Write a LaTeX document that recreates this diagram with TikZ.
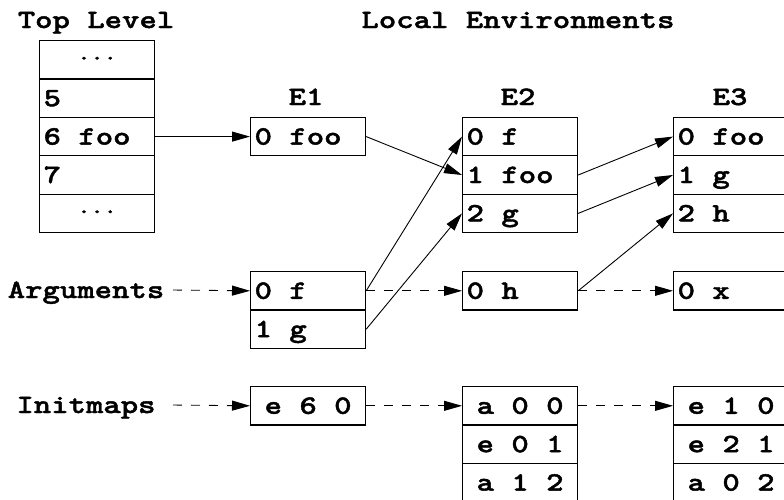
\documentclass[tikz,border=0pt]{standalone}
\usepackage{fontspec}
\newfontfamily\cour{lmmonolt10-bold.otf}[FakeStretch=1.25, FakeBold=1.6]
\usetikzlibrary{arrows.meta}
% left-aligned cell text, set in a box of the cell's inner width
\newcommand\cl[1]{\makebox[107pt][l]{#1}}

\begin{document}
\begin{tikzpicture}[x=1pt,y=-1pt,
  txt/.style={font=\cour\fontsize{26.5}{28}\selectfont},
  title/.style={txt, inner sep=0pt, text height=16pt, text depth=0pt},
  cell/.style={txt, draw, line width=1.2pt, anchor=north west,
    minimum width=115pt, minimum height=38.4pt, inner xsep=4pt, inner ysep=0pt,
    text height=16pt, text depth=0pt},
  dots/.style={cell, font=\cour\fontsize{20}{22}\selectfont, text height=9pt},
  link/.style={line width=0.9pt, -{Triangle[length=18pt,width=10pt]}},
  dlink/.style={link, dash pattern=on 9pt off 9pt}
]
\clip (0,0) rectangle (784,499);

% headings
\node[title] (top) at (96,20) {Top Level};
\node[title] (loc) at (518,20) {Local Environments};
\node[title] (E1) at (306,97) {E1};
\node[title] (E2) at (518,97) {E2};
\node[title] (E3) at (730,97) {E3};
\node[title] (args) at (86,290) {Arguments};
\node[title] (init) at (86,405) {Initmaps};
\coordinate (argsout) at (173,290);
\coordinate (initout) at (173,405);

% top level table
\node[dots] (tl0) at (39,40)    {···};
\node[cell] (tl1) at (39,78.4)  {\cl{5}};
\node[cell] (tl2) at (39,116.8) {\cl{6 foo}};
\node[cell] (tl3) at (39,155.2) {\cl{7}};
\node[dots] (tl4) at (39,193.6) {···};

% local environments
\node[cell] (e1r0) at (250,116.8) {\cl{0 foo}};

\node[cell] (e2r0) at (462,116.8) {\cl{0 f}};
\node[cell] (e2r1) at (462,155.2) {\cl{1 foo}};
\node[cell] (e2r2) at (462,193.6) {\cl{2 g}};

\node[cell] (e3r0) at (673,116.8) {\cl{0 foo}};
\node[cell] (e3r1) at (673,155.2) {\cl{1 g}};
\node[cell] (e3r2) at (673,193.6) {\cl{2 h}};

% argument lists
\node[cell] (a1r0) at (250,271)   {\cl{0 f}};
\node[cell] (a1r1) at (250,309.4) {\cl{1 g}};
\node[cell] (a2r0) at (462,271)   {\cl{0 h}};
\node[cell] (a3r0) at (673,271)   {\cl{0 x}};

% init maps
\node[cell] (i1r0) at (250,386)   {e 6 0};
\node[cell] (i2r0) at (462,386)   {a 0 0};
\node[cell] (i2r1) at (462,424.4) {e 0 1};
\node[cell] (i2r2) at (462,462.8) {a 1 2};
\node[cell] (i3r0) at (673,386)   {e 1 0};
\node[cell] (i3r1) at (673,424.4) {e 2 1};
\node[cell] (i3r2) at (673,462.8) {a 0 2};

% bindings
\draw[link] (tl2.east) -- (e1r0.west);
\draw[link] (e1r0.east) -- (e2r1.west);
\draw[link] (a1r0.east) -- (e2r0.west);
\draw[link] (a1r1.east) -- (e2r2.west);
\draw[link] (e2r1.east) -- (e3r0.west);
\draw[link] (e2r2.east) -- (e3r1.west);
\draw[link] (a2r0.east) -- (e3r2.west);

% chains
\draw[dlink] (argsout) -- (a1r0.west);
\draw[dlink] (a1r0.east) -- (a2r0.west);
\draw[dlink] (a2r0.east) -- (a3r0.west);
\draw[dlink] (initout) -- (i1r0.west);
\draw[dlink] (i1r0.east) -- (i2r0.west);
\draw[dlink] (i2r0.east) -- (i3r0.west);
\end{tikzpicture}
\end{document}
